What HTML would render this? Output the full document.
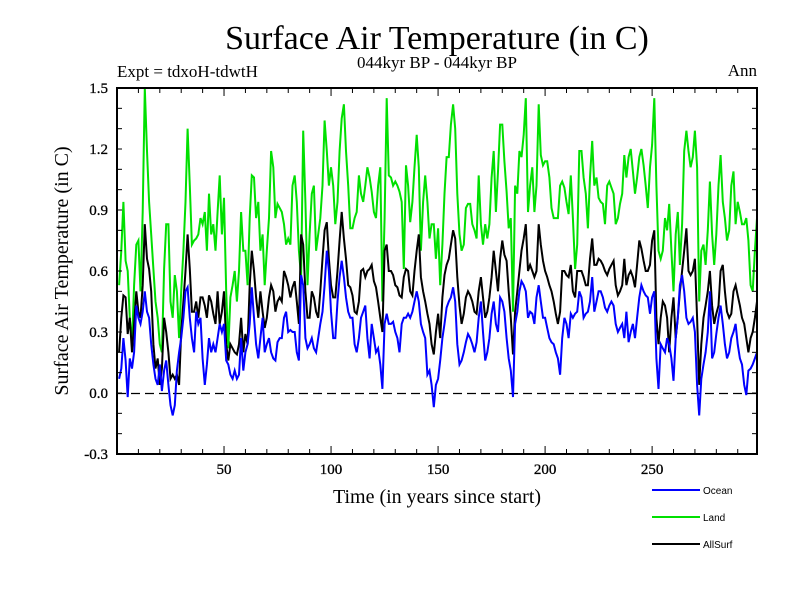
<!DOCTYPE html>
<html><head><meta charset="utf-8"><style>
body{margin:0;background:#fff}
svg{display:block}
text{font-family:"Liberation Serif",serif;fill:#000}
</style></head><body>
<svg id="chart" width="800" height="600" viewBox="0 0 800 600" xmlns="http://www.w3.org/2000/svg">
<rect width="800" height="600" fill="#fff"/>
<text x="437" y="49" font-size="34" text-anchor="middle">Surface Air Temperature (in C)</text>
<text x="437" y="68" font-size="17" text-anchor="middle">044kyr BP - 044kyr BP</text>
<text x="117" y="77" font-size="17">Expt = tdxoH-tdwtH</text>
<text x="757" y="76" font-size="17" text-anchor="end">Ann</text>
<text x="437" y="503" font-size="20" text-anchor="middle">Time (in years since start)</text>
<text x="0" y="0" font-size="20" text-anchor="middle" transform="translate(68,271) rotate(-90)">Surface Air Temperature (in C)</text>
<g id="plot"></g>
<g id="legend"></g>
</svg>
<script>
const yTickLabels = ["-0.3","0.0","0.3","0.6","0.9","1.2","1.5"];
const xTickLabels = ["50","100","150","200","250"];
const seriesNames = ["Ocean","Land","AllSurf"];
const landValues = [
0.53,0.70,0.94,0.65,0.60,0.37,0.24,0.53,0.73,0.75,0.50,0.89,1.50,1.19,0.94,0.78,0.61,0.45,0.37,0.24,
0.20,0.61,0.83,0.83,0.45,0.37,0.58,0.50,0.27,0.50,0.70,0.94,1.30,1.02,0.73,0.75,0.76,0.78,0.86,0.83,
0.89,0.70,0.98,0.78,0.83,0.70,0.89,1.07,0.78,0.96,0.50,0.22,0.47,0.53,0.60,0.45,0.60,0.89,0.70,0.70,
0.53,0.86,1.07,1.06,0.86,0.94,0.70,0.78,0.53,0.70,0.86,1.19,1.11,0.86,0.93,0.91,
0.89,0.83,0.73,0.76,0.73,1.02,1.07,0.94,0.70,0.57,1.29,0.94,0.53,0.78,0.98,1.02,0.70,0.78,0.86,1.02,
1.34,1.19,1.02,1.11,1.02,0.83,0.94,1.19,1.35,1.42,1.19,1.02,0.81,0.81,0.86,0.89,1.07,0.98,0.94,1.02,
1.11,1.06,0.99,0.89,0.86,1.02,1.11,0.45,0.86,1.45,1.07,1.06,1.02,1.04,1.02,0.99,0.94,0.61,1.12,1.02,
0.84,0.94,1.11,1.27,1.11,0.70,0.94,1.07,0.94,0.76,0.83,0.83,
0.66,0.81,0.53,0.73,0.98,1.16,1.16,1.32,1.42,1.30,0.98,0.78,0.70,0.73,0.91,0.93,0.93,0.83,0.80,0.76,
1.07,0.83,0.73,0.83,0.76,0.83,1.06,1.19,0.89,1.09,1.32,1.32,1.14,0.99,0.81,0.86,0.40,1.02,0.98,1.19,
1.16,1.27,1.45,0.89,1.02,1.11,0.89,1.02,1.42,1.17,1.12,1.14,1.14,1.06,0.91,0.86,0.86,0.86,1.02,1.04,
1.01,0.94,0.88,1.07,0.86,0.61,0.73,1.19,1.19,1.06,0.98,0.81,1.06,1.24,1.02,1.06,0.96,
0.94,0.93,0.83,1.02,1.04,1.01,0.98,0.83,0.86,0.93,0.98,1.17,1.06,1.16,1.20,1.09,0.98,1.06,1.16,1.20,
1.12,1.02,0.91,1.11,1.22,1.45,1.02,0.70,0.66,0.70,0.86,0.80,0.93,0.70,0.50,0.78,0.89,0.63,0.83,1.19,
1.29,1.19,1.11,1.16,1.29,1.11,0.45,0.70,0.73,0.63,0.80,1.04,0.78,0.63,0.78,1.02,1.17,0.94,0.86,0.75,
0.80,1.02,1.09,0.83,0.94,0.89,0.83,0.83,0.86,0.75,0.53,0.50,0.70,0.86];
const allSurfValues = [
0.20,0.37,0.48,0.47,0.29,0.37,0.20,0.34,0.50,0.40,0.37,0.53,0.83,0.66,0.61,0.50,0.24,0.12,0.17,0.04,
0.12,0.37,0.30,0.20,0.07,0.09,0.07,0.09,0.04,0.30,0.45,0.60,0.78,0.61,0.40,0.40,0.45,0.37,0.47,0.47,
0.43,0.37,0.48,0.45,0.39,0.34,0.50,0.34,0.40,0.50,0.24,0.16,0.24,0.22,0.20,0.19,0.24,0.37,0.20,0.29,
0.24,0.53,0.70,0.60,0.47,0.37,0.50,0.40,0.32,0.37,0.47,0.53,0.50,0.40,0.45,0.47,
0.45,0.60,0.57,0.53,0.47,0.52,0.55,0.45,0.34,0.78,0.73,0.50,0.37,0.37,0.50,0.47,0.40,0.37,0.50,0.66,
0.80,0.84,0.66,0.53,0.47,0.47,0.60,0.75,0.89,0.76,0.66,0.53,0.52,0.48,0.40,0.39,0.45,0.60,0.61,0.57,
0.60,0.61,0.63,0.55,0.52,0.45,0.37,0.30,0.70,0.73,0.60,0.60,0.58,0.53,0.52,0.48,0.47,0.57,0.61,0.60,
0.50,0.48,0.60,0.70,0.78,0.57,0.50,0.45,0.39,0.34,0.24,0.19,
0.30,0.39,0.27,0.47,0.58,0.63,0.66,0.73,0.80,0.76,0.57,0.43,0.34,0.39,0.47,0.50,0.48,0.45,0.40,0.39,
0.50,0.57,0.47,0.37,0.40,0.47,0.57,0.70,0.60,0.50,0.66,0.75,0.68,0.65,0.50,0.37,0.19,0.40,0.50,0.60,
0.70,0.76,0.83,0.60,0.63,0.60,0.57,0.60,0.83,0.73,0.65,0.60,0.57,0.53,0.50,0.45,0.39,0.34,0.40,0.60,
0.60,0.58,0.57,0.63,0.50,0.47,0.60,0.60,0.60,0.57,0.53,0.53,0.66,0.76,0.63,0.63,0.66,
0.65,0.63,0.60,0.58,0.61,0.63,0.65,0.53,0.48,0.50,0.53,0.66,0.53,0.58,0.60,0.57,0.52,0.63,0.75,0.71,
0.65,0.60,0.60,0.63,0.75,0.80,0.37,0.24,0.37,0.45,0.43,0.37,0.20,0.37,0.47,0.27,0.37,0.50,0.60,0.70,
0.81,0.60,0.58,0.60,0.66,0.37,0.04,0.24,0.37,0.43,0.50,0.60,0.43,0.34,0.39,0.43,0.60,0.63,0.50,0.40,
0.37,0.39,0.50,0.53,0.48,0.43,0.37,0.34,0.27,0.20,0.27,0.30,0.37,0.45];
const oceanValues = [
0.07,0.12,0.27,0.16,-0.02,0.17,0.12,0.20,0.43,0.37,0.34,0.40,0.50,0.40,0.37,0.24,0.14,0.07,0.04,0.14,
0.01,0.11,0.16,0.04,-0.06,-0.11,-0.06,0.11,0.20,0.27,0.37,0.50,0.52,0.37,0.27,0.20,0.40,0.34,0.37,0.17,
0.04,0.14,0.27,0.20,0.24,0.20,0.27,0.34,0.30,0.34,0.16,0.14,0.09,0.07,0.11,0.07,0.09,0.27,0.11,0.20,
0.24,0.34,0.52,0.37,0.24,0.17,0.27,0.37,0.20,0.24,0.27,0.20,0.17,0.16,0.25,0.27,
0.27,0.37,0.40,0.30,0.31,0.30,0.30,0.20,0.16,0.58,0.53,0.27,0.22,0.24,0.27,0.22,0.20,0.27,0.34,0.40,
0.53,0.70,0.60,0.40,0.27,0.27,0.45,0.57,0.65,0.57,0.47,0.40,0.37,0.37,0.24,0.20,0.27,0.37,0.40,0.43,
0.27,0.17,0.34,0.27,0.20,0.22,0.14,0.02,0.34,0.39,0.34,0.34,0.35,0.30,0.27,0.20,0.34,0.37,0.37,0.39,
0.37,0.40,0.45,0.50,0.45,0.34,0.30,0.27,0.09,0.11,0.04,-0.07,
0.04,0.07,0.16,0.27,0.34,0.42,0.45,0.47,0.52,0.45,0.24,0.14,0.16,0.20,0.25,0.29,0.27,0.24,0.20,0.25,
0.37,0.45,0.30,0.16,0.20,0.27,0.39,0.45,0.34,0.30,0.47,0.45,0.40,0.27,0.17,0.11,-0.02,0.34,0.40,0.50,
0.55,0.53,0.50,0.37,0.40,0.39,0.34,0.47,0.53,0.45,0.37,0.37,0.32,0.27,0.25,0.24,0.20,0.17,0.09,0.27,
0.37,0.34,0.27,0.39,0.37,0.39,0.40,0.50,0.47,0.37,0.39,0.40,0.45,0.57,0.40,0.45,0.50,
0.50,0.47,0.42,0.40,0.43,0.45,0.43,0.34,0.30,0.32,0.34,0.27,0.40,0.25,0.30,0.34,0.27,0.37,0.47,0.53,
0.50,0.48,0.47,0.39,0.47,0.50,0.17,0.02,0.24,0.22,0.20,0.27,0.24,0.17,0.06,0.27,0.37,0.53,0.58,0.50,
0.37,0.34,0.35,0.37,0.30,0.04,-0.11,0.07,0.14,0.20,0.30,0.50,0.17,0.20,0.29,0.37,0.43,0.34,0.24,0.17,
0.20,0.27,0.30,0.34,0.24,0.17,0.14,0.04,-0.01,0.11,0.12,0.14,0.17,0.20];

const NS = "http://www.w3.org/2000/svg";
const L = 117, R = 757, T = 88, B = 454;
const xMin = 0, xMax = 299, yMin = -0.3, yMax = 1.5;
function xs(v){ return L + (v - xMin) / (xMax - xMin) * (R - L); }
function ys(v){ return B - (v - yMin) / (yMax - yMin) * (B - T); }
function mk(tag, attrs, parent){ const e = document.createElementNS(NS, tag); for (const k in attrs) e.setAttribute(k, attrs[k]); parent.appendChild(e); return e; }
const plot = document.getElementById('plot');

const zl = mk('line', {x1:L, x2:R, y1:Math.round(ys(0))+0.5, y2:Math.round(ys(0))+0.5, stroke:'#000', 'stroke-width':1.3, 'stroke-dasharray':'9,5'}, plot);



function drawSeries(vals, color, name){
  let d = '';
  vals.forEach((v, i) => { const yr = i + 1; d += (i ? 'L' : 'M') + xs(yr).toFixed(1) + ',' + ys(v).toFixed(1); });
  const p = mk('path', {d:d, fill:'none', stroke:color, 'stroke-width':2, 'stroke-linejoin':'miter'}, plot);
  
  
}
drawSeries(landValues, '#00e000', 'land-series-line');
drawSeries(allSurfValues, '#000000', 'allsurf-series-line');
drawSeries(oceanValues, '#0000ff', 'ocean-series-line');

const fr = mk('rect', {x:L, y:T, width:R-L, height:B-T, fill:'none', stroke:'#000', 'stroke-width':2}, plot);



for (let k = 0; k <= 18; k++){
  const v = yMin + k * 0.1; const y = ys(v);
  mk('line', {x1:L, x2:L+5, y1:y, y2:y, stroke:'#000', 'stroke-width':1}, plot);
  mk('line', {x1:R, x2:R-5, y1:y, y2:y, stroke:'#000', 'stroke-width':1}, plot);
}
yTickLabels.forEach(s => {
  const t = mk('text', {x:108, y:ys(parseFloat(s)) + 5, 'font-size':15, 'text-anchor':'end', stroke:'#000', 'stroke-width':0.3}, plot);
  t.textContent = s;
  
  
});
for (let yr = 10; yr < xMax; yr += 10){
  const x = xs(yr); const len = yr % 50 === 0 ? 8 : 5;
  mk('line', {x1:x, x2:x, y1:B, y2:B-len, stroke:'#000', 'stroke-width':1}, plot);
  mk('line', {x1:x, x2:x, y1:T, y2:T+len, stroke:'#000', 'stroke-width':1}, plot);
}
xTickLabels.forEach(s => {
  const t = mk('text', {x:xs(parseFloat(s)), y:474, 'font-size':15, 'text-anchor':'middle', stroke:'#000', 'stroke-width':0.3}, plot);
  t.textContent = s;
  
  
});

const leg = document.getElementById('legend');
const legColors = ['#0000ff', '#00e000', '#000000'];
seriesNames.forEach((n, i) => {
  const y = 490 + i * 27;
  const ln = mk('line', {x1:652, x2:700, y1:y, y2:y, stroke:legColors[i], 'stroke-width':2}, leg);
  
  
  const t = mk('text', {x:703, y:y + 4, 'font-size':10, style:'font-family:"Liberation Sans",sans-serif'}, leg);
  t.textContent = n;
  
  
});
</script>
</body></html>
